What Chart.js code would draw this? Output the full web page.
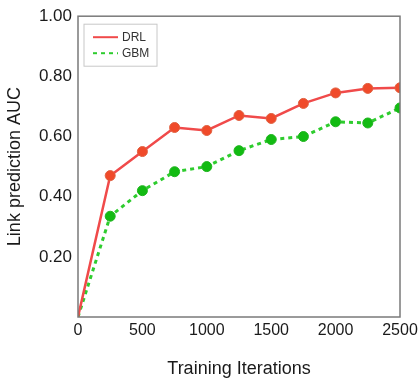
<!DOCTYPE html>
<html>
<head>
<meta charset="utf-8">
<script src="https://cdn.jsdelivr.net/npm/chart.js@4.4.1/dist/chart.umd.min.js"></script>
<style>
  html, body { margin: 0; padding: 0; background: #fff; }
  #wrap { width: 420px; height: 392px; position: relative; }
</style>
</head>
<body>
<div id="wrap"><canvas id="grafico"></canvas></div>
<script>
// dados
const iteracoes = [0, 250, 500, 750, 1000, 1250, 1500, 1750, 2000, 2250, 2500];
const drl = [0, 0.47, 0.55, 0.63, 0.62, 0.67, 0.66, 0.71, 0.745, 0.76, 0.762];
const gbm = [0, 0.335, 0.42, 0.483, 0.50, 0.553, 0.59, 0.60, 0.649, 0.645, 0.695];
const yTicks = [0.2, 0.4, 0.6, 0.8, 1.0];
const xTicks = [0, 500, 1000, 1500, 2000, 2500];

const FONTE = '"Liberation Sans", Arial, sans-serif';

/* =========================
   MOLDURA + LEGENDA
========================= */
const molduraPlugin = {
  id: 'moldura',
  afterDatasetsDraw(chart) {
    const { ctx, chartArea: a } = chart;
    ctx.save();
    ctx.strokeStyle = '#7a7a7a';
    ctx.lineWidth = 1.5;
    ctx.strokeRect(a.left, a.top, a.right - a.left, a.bottom - a.top);

    // legenda dentro da área
    const lx = a.left + 6, ly = a.top + 8;
    ctx.fillStyle = '#fff';
    ctx.fillRect(lx, ly, 73, 42);
    ctx.strokeStyle = '#c8c8c8';
    ctx.lineWidth = 1;
    ctx.strokeRect(lx, ly, 73, 42);

    chart.data.datasets.forEach((ds, i) => {
      const y = ly + 13 + i * 16;
      ctx.strokeStyle = ds.borderColor;
      ctx.lineWidth = 2;
      ctx.setLineDash(ds.borderDash || []);
      ctx.beginPath();
      ctx.moveTo(lx + 9, y);
      ctx.lineTo(lx + 34, y);
      ctx.stroke();
      ctx.setLineDash([]);
      ctx.fillStyle = '#333';
      ctx.font = '12px ' + FONTE;
      ctx.textBaseline = 'middle';
      ctx.fillText(ds.label, lx + 38, y);
    });
    ctx.restore();
  }
};

const raio = c => (c.dataIndex === 0 ? 0 : 5);

new Chart(document.getElementById('grafico'), {
  type: 'line',
  data: {
    datasets: [
      {
        label: 'DRL',
        data: iteracoes.map((x, i) => ({ x, y: drl[i] })),
        borderColor: '#f04a4a',
        borderWidth: 2.5,
        pointBackgroundColor: '#f04a2a',
        pointBorderColor: '#e06040',
        pointBorderWidth: 1,
        pointRadius: raio,
        tension: 0
      },
      {
        label: 'GBM',
        data: iteracoes.map((x, i) => ({ x, y: gbm[i] })),
        borderColor: '#2ecc2e',
        borderDash: [4, 4],
        borderWidth: 3,
        pointBackgroundColor: '#12bb12',
        pointBorderColor: '#1fb51f',
        pointBorderWidth: 1,
        pointRadius: raio,
        tension: 0
      }
    ]
  },
  options: {
    responsive: true,
    maintainAspectRatio: false,
    animation: false,
    layout: { padding: { top: 15, right: 20, bottom: 8, left: 0 } },
    plugins: {
      legend: { display: false },
      tooltip: { enabled: false }
    },
    scales: {
      x: {
        type: 'linear',
        min: 0,
        max: 2500,
        afterBuildTicks: s => { s.ticks = xTicks.map(v => ({ value: v })); },
        afterFit: s => { s.height = 67; s.paddingLeft = 0; s.paddingRight = 0; },
        grid: { display: false, drawTicks: false },
        border: { display: false },
        ticks: {
          color: '#1a1a1a',
          font: { family: FONTE, size: 16 },
          padding: 4,
          maxRotation: 0,
          callback: v => String(v)
        },
        title: {
          display: true,
          text: 'Training Iterations',
          color: '#1a1a1a',
          font: { family: FONTE, size: 18 },
          padding: { top: 8 }
        }
      },
      y: {
        min: 0,
        max: 1,
        afterBuildTicks: s => { s.ticks = yTicks.map(v => ({ value: v })); },
        afterFit: s => { s.width = 78; },
        grid: { display: false, drawTicks: false },
        border: { display: false },
        ticks: {
          color: '#1a1a1a',
          font: { family: FONTE, size: 17 },
          padding: 6,
          callback: v => Number(v).toFixed(2)
        },
        title: {
          display: true,
          text: 'Link prediction AUC',
          color: '#1a1a1a',
          font: { family: FONTE, size: 18 },
          padding: { bottom: 2 }
        }
      }
    }
  },
  plugins: [molduraPlugin]
});
</script>
</body>
</html>
